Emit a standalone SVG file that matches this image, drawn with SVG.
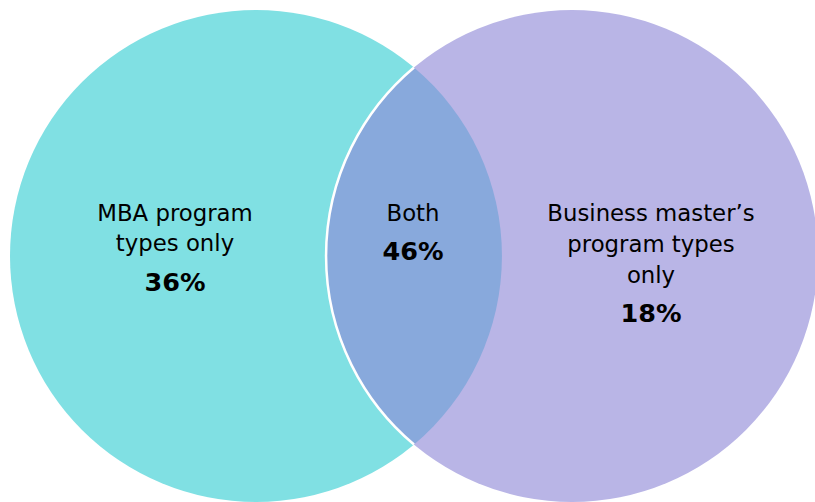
<svg xmlns="http://www.w3.org/2000/svg" width="815" height="502" viewBox="0 0 815 502">
<style>
.t{font-family:"DejaVu Sans","Verdana",sans-serif;font-size:22.8px;fill:#000;text-anchor:middle}
.b{font-weight:bold;font-size:25.5px}
</style>
<rect width="815" height="502" fill="#fff"/>
<g id="mba">
<circle cx="256" cy="256" r="246" fill="#80E0E3"/>
</g>
<g id="business">
<circle cx="572" cy="256" r="246" fill="#B9B5E6"/>
</g>
<g id="both">
<path d="M414,67.5 A246,246 0 0 1 414,444.5 A246,246 0 0 1 414,67.5 Z" fill="#88A9DC"/>
<path d="M414,67.5 A246,246 0 0 0 414,444.5" fill="none" stroke="#fff" stroke-width="2.5"/>
</g>
<g id="labels">
<text class="t" x="175" y="221">MBA program</text>
<text class="t" x="175" y="251">types only</text>
<text class="t b" x="175" y="291">36%</text>
<text class="t" x="413" y="221">Both</text>
<text class="t b" x="413" y="260">46%</text>
<text class="t" x="651" y="221">Business master’s</text>
<text class="t" x="651" y="252">program types</text>
<text class="t" x="651" y="283">only</text>
<text class="t b" x="651" y="322">18%</text>
</g>
<g id="connectors"></g>
</svg>
